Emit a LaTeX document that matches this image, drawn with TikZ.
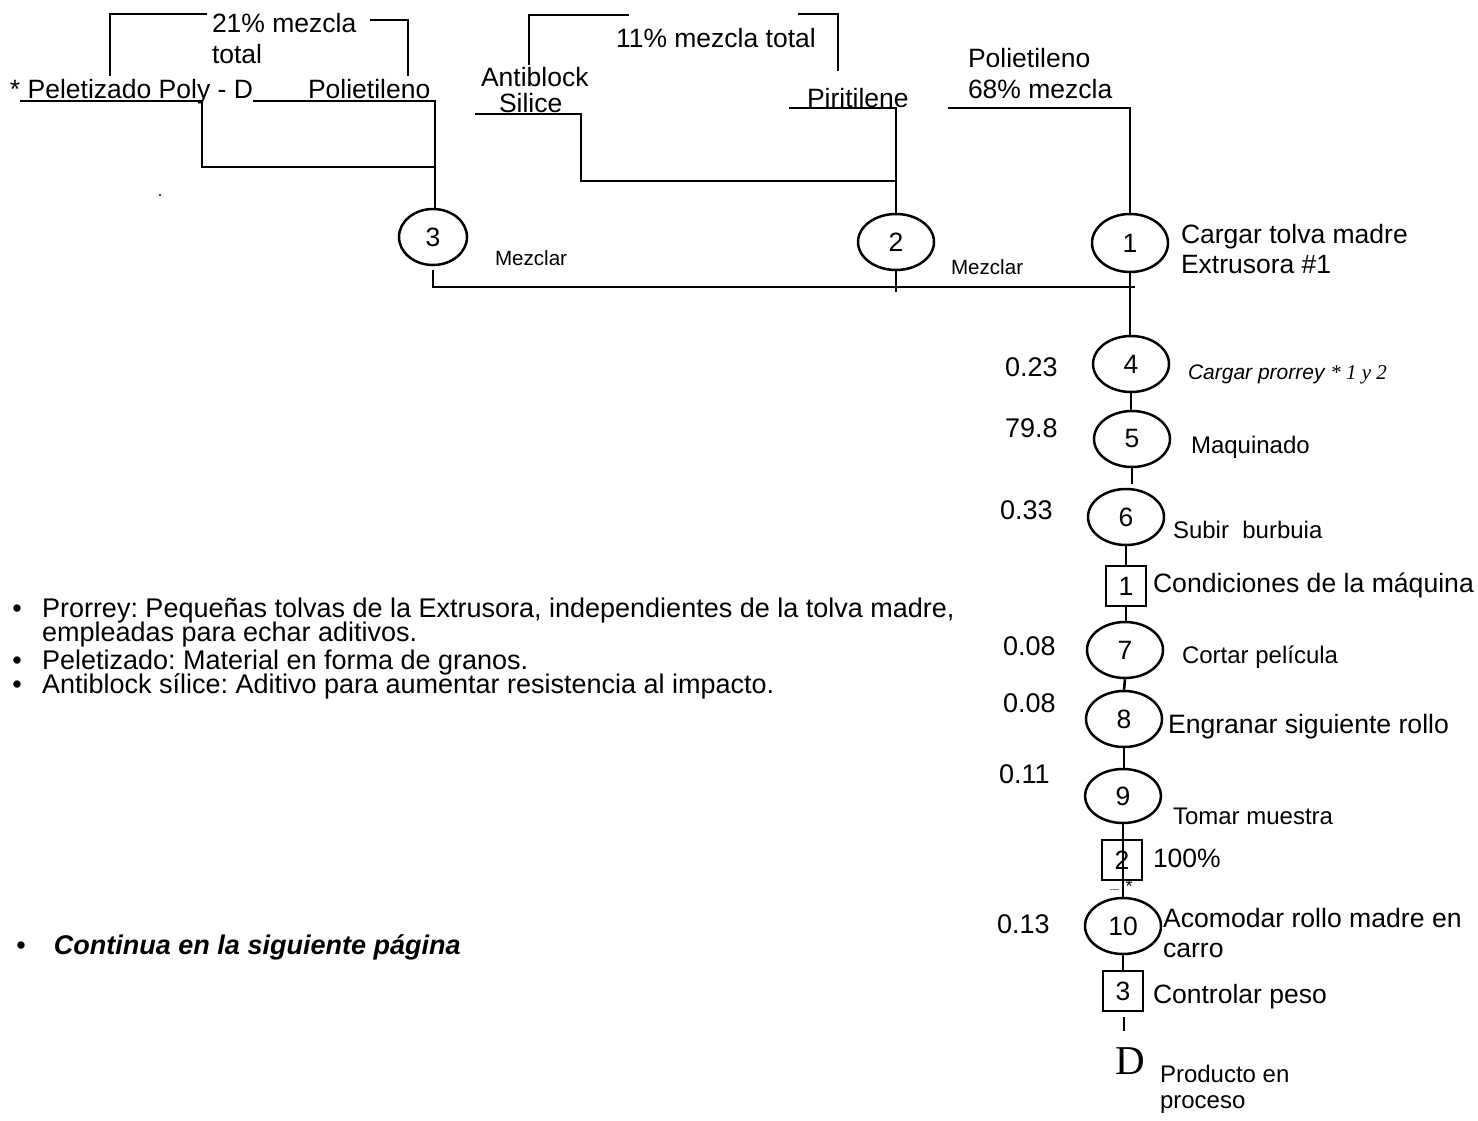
\documentclass[tikz,border=0pt]{standalone}
\usepackage{fontspec}
\setmainfont{Liberation Sans}
\newfontfamily\serifface{Liberation Serif}
\usetikzlibrary{shapes.geometric}
\newcommand\myfL{\fontsize{13.25}{15}\selectfont}
\newcommand\myfX{\fontsize{13.3}{16}\selectfont}
\newcommand\myfM{\fontsize{12}{14}\selectfont}
\newcommand\myfS{\fontsize{10.3}{12}\selectfont}
\newcommand\myfB{\fontsize{13.5}{15}\selectfont}
\begin{document}
\frenchspacing
\begin{tikzpicture}[x=0.5pt,y=-0.5pt, line width=1.3pt,
 lbl/.style={anchor=base west, inner sep=0pt, outer sep=0pt, font=\myfL},
 op/.style={shape=ellipse, draw, line width=1.25pt, inner sep=0pt, minimum width=38pt, minimum height=28pt, font=\myfL},
 insp/.style={rectangle, draw, line width=1.25pt, inner sep=0pt, minimum width=20pt, minimum height=20pt, font=\myfL}]
\useasboundingbox (0,0) rectangle (1478,1120);

% ---------- top-left group ----------
\node[lbl] (t21) at (212,32) {21\% mezcla};
\node[lbl] (ttot) at (212,63) {total};
\node[lbl] (tpel) at (10,98) {* Peletizado Poly - D};
\node[lbl] (tpol1) at (308,98) {Polietileno};
\coordinate (bl1) at (110,76); \coordinate (bl2) at (110,14); \coordinate (bl3) at (207,14);
\coordinate (br1) at (370,20); \coordinate (br2) at (408,20); \coordinate (br3) at (408,76);
\draw (bl1) -- (bl2) -- (bl3);
\draw (br1) -- (br2) -- (br3);
\node[op, minimum width=34pt] (n3) at (433,237) {3};
\coordinate (a1) at (20,101); \coordinate (a2) at (202,101); \coordinate (a3) at (202,167); \coordinate (a4) at (435,167);
\coordinate (a5) at (253,101); \coordinate (a6) at (435,101);
\draw (a1) -- (a2) -- (a3) -- (a4);
\draw (a5) -- (a6) -- (a6 |- n3.north);
\node[lbl, font=\myfS] (mz3) at (495,265) {Mezclar};
\fill (160,195) circle (0.6pt);

% ---------- top-middle group ----------
\node[lbl] (t11) at (616,47) {11\% mezcla total};
\node[lbl] (tanti) at (481,86) {Antiblock};
\node[lbl] (tsil) at (499,112) {Silice};
\node[lbl] (tpir) at (807,107) {Piritilene};
\coordinate (cl1) at (529,65); \coordinate (cl2) at (529,15); \coordinate (cl3) at (629,15);
\coordinate (cr1) at (798,14); \coordinate (cr2) at (838,14); \coordinate (cr3) at (838,71);
\draw (cl1) -- (cl2) -- (cl3);
\draw (cr1) -- (cr2) -- (cr3);
\node[op] (n2) at (896,242) {2};
\coordinate (s1) at (475,114); \coordinate (s2) at (581,114); \coordinate (s3) at (581,181); \coordinate (s4) at (896,181);
\coordinate (p1) at (789,108); \coordinate (p2) at (896,108);
\draw (s1) -- (s2) -- (s3) -- (s4);
\draw (p1) -- (p2) -- (n2.north);
\node[lbl, font=\myfS] (mz2) at (951,274) {Mezclar};

% ---------- right top ----------
\node[lbl] (tpol2) at (968,67) {Polietileno};
\node[lbl] (t68) at (968,98) {68\% mezcla};
\node[op, minimum height=29pt] (n1) at (1130,243) {1};
\coordinate (q1) at (948,108); \coordinate (q2) at (1130,108);
\draw (q1) -- (q2) -- (n1.north);
\node[lbl] (tcar) at (1181,243) {Cargar tolva madre};
\node[lbl] (text) at (1181,273) {Extrusora \#1};

% bottom collecting line
\coordinate (h3) at (433,270); \coordinate (h1) at (1135,287); \coordinate (j2) at (896,292);
\draw (h3) |- (h1);
\draw (n2.south) -- (j2);

% ---------- right column ----------
\node[op] (n4) at (1131,364) {4};
\node[op] (n5) at (1132,439) {5};
\node[op] (n6) at (1126,517) {6};
\node[insp] (b1) at (1126,586) {1};
\node[op] (n7) at (1125,650) {7};
\node[op] (n8) at (1124,719) {8};
\node[op, minimum height=27pt] (n9) at (1123,796) {9};
\node[insp] (b2) at (1122,860) {2};
\node[op] (n10) at (1123,926) {10};
\node[insp] (b3) at (1123,991) {3};
\node[lbl, font=\serifface\fontsize{20.5}{22}\selectfont] (dD) at (1115,1074) {D};
\coordinate (g56) at (1132,484);
\coordinate (d1) at (1124,1017); \coordinate (d2) at (1124,1031);

\draw (n1.south) -- (n1.south |- n4.north);
\draw (n4.south) -- (n4.south |- n5.north);
\draw (n5.south) -- (g56);
\draw (n6.south) -- (n6.south |- b1.north);
\draw (b1.south) -- (b1.south |- n7.north);
\draw (n7.south) -- (n8.north);
\draw (n8.south) -- (n8.south |- n9.north);
\draw (n9.south) -- (n10.north);
\draw (n10.south) -- (b3.north);
\draw (d1) -- (d2);
\node[inner sep=0pt, font=\fontsize{9}{10}\selectfont] (ast) at (1129,886) {*};
\draw[line width=0.5pt, gray] (1110,889) -- (1119,889);

% times
\node[lbl, font=\myfB] (v4) at (1005,376) {0.23};
\node[lbl, font=\myfB] (v5) at (1005,437) {79.8};
\node[lbl, font=\myfB] (v6) at (1000,519) {0.33};
\node[lbl, font=\myfB] (v7) at (1003,655) {0.08};
\node[lbl, font=\myfB] (v8) at (1003,712) {0.08};
\node[lbl, font=\myfB] (v9) at (999,783) {0.11};
\node[lbl, font=\myfB] (v10) at (997,933) {0.13};

% descriptions
\node[lbl, font=\fontsize{10.5}{12}\selectfont\itshape] (l4) at (1188,379) {Cargar prorrey {\serifface\itshape * 1 y 2}};
\node[lbl, font=\myfM] (l5) at (1191,453) {Maquinado};
\node[lbl, font=\myfM] (l6) at (1173,538) {Subir\ \ burbuia};
\node[lbl, font=\myfX] (lb1) at (1153,592) {Condiciones de la máquina};
\node[lbl, font=\myfM] (l7) at (1182,663) {Cortar película};
\node[lbl, font=\myfX] (l8) at (1168,733) {Engranar siguiente rollo};
\node[lbl, font=\myfM] (l9) at (1173,824) {Tomar muestra};
\node[lbl] (lb2) at (1153,867) {100\%};
\node[lbl, font=\myfX] (l10a) at (1163,927) {Acomodar rollo madre en};
\node[lbl, font=\myfX] (l10b) at (1163,957) {carro};
\node[lbl] (lb3) at (1153,1003) {Controlar peso};
\node[lbl, font=\myfM] (lDa) at (1160,1082) {Producto en};
\node[lbl, font=\myfM] (lDb) at (1160,1108) {proceso};

% ---------- notes ----------
\node[anchor=base, inner sep=0pt, font=\myfB] (bu1) at (17,617) {•};
\node[lbl, font=\myfB] (nt1) at (42,617) {Prorrey: Pequeñas tolvas de la Extrusora, independientes de la tolva madre,};
\node[lbl, font=\myfB] (nt1b) at (42,641) {empleadas para echar aditivos.};
\node[anchor=base, inner sep=0pt, font=\myfB] (bu2) at (17,669) {•};
\node[lbl, font=\myfB] (nt2) at (42,669) {Peletizado: Material en forma de granos.};
\node[anchor=base, inner sep=0pt, font=\myfB] (bu3) at (17,693) {•};
\node[lbl, font=\myfB] (nt3) at (42,693) {Antiblock sílice: Aditivo para aumentar resistencia al impacto.};
\node[anchor=base, inner sep=0pt, font=\myfB] (bu4) at (21,954) {•};
\node[lbl, font=\myfB\bfseries\itshape] (nt4) at (54,954) {Continua en la siguiente página};
\end{tikzpicture}
\end{document}
